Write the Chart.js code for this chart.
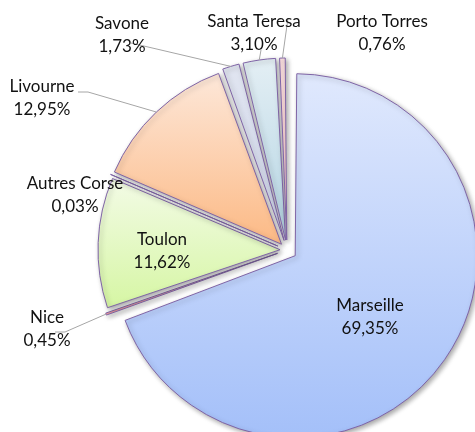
<!DOCTYPE html>
<html><head><meta charset="utf-8">
<script src="https://cdn.jsdelivr.net/npm/chart.js@4"></script>
<style>html,body{margin:0;padding:0;background:#fff}#wrap{width:475px;height:432px;position:relative}</style>
</head><body><div id="wrap"><canvas id="c" width="475" height="432"></canvas></div>
<script>
// ---- data ----
const categories = ['Marseille','Nice','Toulon','Autres Corse','Livourne','Savone','Santa Teresa','Porto Torres'];
const shares = [69.35, 0.45, 11.62, 0.03, 12.95, 1.73, 3.10, 0.76];
const shareLabels = shares.map(v => v.toFixed(2).replace('.', ',') + '%');

// ---- styles ----
const gradTop    = ['#dfe8fd','#f8b6b6','#f3fbe6','#c9bedb','#fde9dc','#e2e6f1','#e6f0f5','#fde3e3'];
const gradBottom = ['#a3bff9','#f29a9a','#d6f6a4','#a898c0','#fcbb88','#cfd6ea','#b7d6e4','#f8c6c6'];
const PIE_RADIUS = 182;
const explode = [10, 10, 7, 10, 8, 10, 10, 10];   // slice pull-out distance (px)
// label block centre and leader start, relative to the pie centre (px)
const labelPlacement = [
  {pos:[83, 67.5]},
  {pos:[-240, 79.5], leader:[[-232, 82], [-222, 82]]},
  {pos:[-125, 1.5]},
  {pos:[-212, -55]},
  {pos:[-245, -151.5], leader:[[-209, -158], [-199, -158]]},
  {pos:[-165, -214.5], leader:[[-156, -207]]},
  {pos:[-33, -217], leader:[[-26, -200]]},
  {pos:[95, -217], leader:[[1, -232]]}
];

function sliceGradient(context){
  const i = context.dataIndex;
  const chart = context.chart;
  const area = chart.chartArea;
  if (!area || context.type !== 'data') return gradTop[i];
  const cx = (area.left + area.right) / 2, cy = (area.top + area.bottom) / 2;
  const total = shares.reduce((a, b) => a + b, 0);
  let start = 0; for (let k = 0; k < i; k++) start += shares[k];
  const a0 = start / total * 2 * Math.PI - Math.PI / 2;
  const a1 = (start + shares[i]) / total * 2 * Math.PI - Math.PI / 2;
  const mid = (a0 + a1) / 2;
  const ox = cx + Math.cos(mid) * explode[i], oy = cy + Math.sin(mid) * explode[i];
  let minY = oy, maxY = oy;
  for (let s = 0; s <= 60; s++) {
    const a = a0 + (a1 - a0) * s / 60;
    const y = oy + PIE_RADIUS * Math.sin(a);
    minY = Math.min(minY, y); maxY = Math.max(maxY, y);
  }
  const g = chart.ctx.createLinearGradient(0, minY, 0, maxY + 0.01);
  g.addColorStop(0, gradTop[i]);
  g.addColorStop(1, gradBottom[i]);
  return g;
}

// Chart.js enlarges an offset arc's radius by (offset/4)*fix; compensate so every slice keeps PIE_RADIUS
const radiusFixPlugin = {
  id: 'radiusFix',
  beforeDatasetsDraw(chart){
    const meta = chart.getDatasetMeta(0);
    meta.data.forEach((arc, i) => {
      const circ = arc.endAngle - arc.startAngle;
      const fix = 1 - Math.sin(Math.min(Math.PI, circ));
      arc.outerRadius = PIE_RADIUS - explode[i] * fix;
    });
  }
};

const shadowPlugin = {
  id: 'shadow',
  beforeDatasetsDraw(chart){
    const c = chart.ctx; c.save();
    c.shadowColor = 'rgba(0,0,0,0.35)'; c.shadowBlur = 5; c.shadowOffsetX = 2; c.shadowOffsetY = 2;
  },
  afterDatasetsDraw(chart){ chart.ctx.restore(); }
};

const labelPlugin = {
  id: 'labels',
  afterDraw(chart){
    const c = chart.ctx;
    const meta = chart.getDatasetMeta(0);
    c.save();
    meta.data.forEach((arc, i) => {
      const p = labelPlacement[i];
      if (!p || !p.leader) return;
      const mid = (arc.startAngle + arc.endAngle) / 2;
      const ex = arc.x + Math.cos(mid) * (explode[i] + PIE_RADIUS);
      const ey = arc.y + Math.sin(mid) * (explode[i] + PIE_RADIUS);
      c.beginPath();
      c.moveTo(arc.x + p.leader[0][0], arc.y + p.leader[0][1]);
      for (let k = 1; k < p.leader.length; k++) c.lineTo(arc.x + p.leader[k][0], arc.y + p.leader[k][1]);
      c.lineTo(ex, ey);
      c.strokeStyle = '#a6a6a6'; c.lineWidth = 1; c.stroke();
    });
    c.font = '17px Lato, "Open Sans", sans-serif';
    c.fillStyle = '#111111';
    c.textAlign = 'center';
    c.textBaseline = 'middle';
    meta.data.forEach((arc, i) => {
      const p = labelPlacement[i];
      const x = arc.x + p.pos[0], y = arc.y + p.pos[1];
      c.fillText(categories[i], x, y - 11.5);
      c.fillText(shareLabels[i], x, y + 11.5);
    });
    c.restore();
  }
};

new Chart(document.getElementById('c'), {
  type: 'pie',
  data: {
    labels: categories,
    datasets: [{
      data: shares,
      backgroundColor: sliceGradient,
      borderColor: '#7f64a6',
      borderWidth: 1,
      offset: (ctx) => ctx.type === 'data' ? explode[ctx.dataIndex] * 4 : 0,
      radius: PIE_RADIUS,
      clip: false
    }]
  },
  options: {
    responsive: false,
    animation: false,
    radius: PIE_RADIUS,
    rotation: 0,
    events: [],
    layout: {padding: {left: 99, right: 0, top: 68, bottom: 0}},
    plugins: {legend: {display: false}, tooltip: {enabled: false}, title: {display: false}}
  },
  plugins: [radiusFixPlugin, shadowPlugin, labelPlugin]
});
</script>
</body></html>
